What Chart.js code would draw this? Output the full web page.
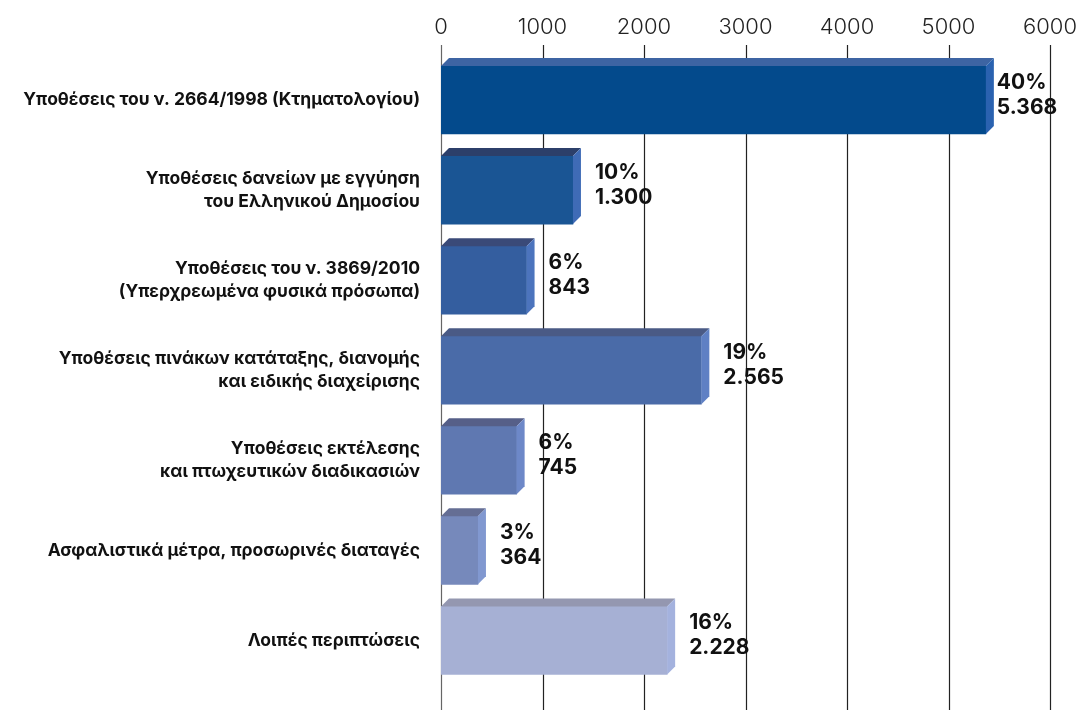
<!DOCTYPE html>
<html>
<head>
<meta charset="utf-8">
<script src="https://cdn.jsdelivr.net/npm/chart.js@4"></script>
<style>
  body { margin: 0; background: #fff; }
  #wrap { width: 1083px; height: 710px; }
</style>
</head>
<body>
<div id="wrap"><canvas id="casesChart"></canvas></div>
<script>
// data
const categories = [
    'Υποθέσεις του ν. 2664/1998 (Κτηματολογίου)',
    ['Υποθέσεις δανείων με εγγύηση', 'του Ελληνικού Δημοσίου'],
    ['Υποθέσεις του ν. 3869/2010', '(Υπερχρεωμένα φυσικά πρόσωπα)'],
    ['Υποθέσεις πινάκων κατάταξης, διανομής', 'και ειδικής διαχείρισης'],
    ['Υποθέσεις εκτέλεσης', 'και πτωχευτικών διαδικασιών'],
    'Ασφαλιστικά μέτρα, προσωρινές διαταγές',
    'Λοιπές περιπτώσεις'
];
const caseCounts = [5368, 1300, 843, 2565, 745, 364, 2228];
const casePercents = [40, 10, 6, 19, 6, 3, 16];
const axisTicks = [0, 1000, 2000, 3000, 4000, 5000, 6000];

// colours of the three faces of each bar
const frontColors = ['#034a8c', '#1a5594', '#345e9f', '#4a6ba8', '#5f78b1', '#7689bb', '#a6b0d4'];
const topColors   = ['#3d64a3', '#2c3f6a', '#3a4a78', '#4a5a85', '#565f88', '#656e94', '#9497b0'];
const sideColors  = ['#2a62b0', '#3f6bb6', '#4c74bd', '#5f80c4', '#6d88c8', '#8198d0', '#a4b2de'];

const DEPTH = 8;

function fmt(n) {
    return n.toLocaleString('el-GR');
}

const bars3d = {
    id: 'bars3d',
    // vertical grid lines, from the tick marks down to the bottom edge
    beforeDatasetsDraw(chart) {
        const ctx = chart.ctx;
        const xs = chart.scales.x;
        ctx.save();
        axisTicks.forEach(function (t, i) {
            const px = Math.round(xs.getPixelForValue(t)) + 0.5;
            ctx.strokeStyle = i === 0 ? '#666' : '#222';
            ctx.lineWidth = 1.2;
            ctx.beginPath();
            ctx.moveTo(px, chart.chartArea.top - 10);
            ctx.lineTo(px, chart.height);
            ctx.stroke();
        });
        ctx.restore();
    },
    // top + right faces and the value labels
    afterDatasetsDraw(chart) {
        const ctx = chart.ctx;
        const meta = chart.getDatasetMeta(0);
        meta.data.forEach(function (bar, i) {
            const p = bar.getProps(['x', 'y', 'base', 'height'], true);
            const top = p.y - p.height / 2;
            const bottom = p.y + p.height / 2;
            ctx.save();
            ctx.fillStyle = topColors[i];
            ctx.beginPath();
            ctx.moveTo(p.base, top);
            ctx.lineTo(p.base + DEPTH, top - DEPTH);
            ctx.lineTo(p.x + DEPTH, top - DEPTH);
            ctx.lineTo(p.x, top);
            ctx.closePath();
            ctx.fill();

            ctx.fillStyle = sideColors[i];
            ctx.beginPath();
            ctx.moveTo(p.x, top);
            ctx.lineTo(p.x + DEPTH, top - DEPTH);
            ctx.lineTo(p.x + DEPTH, bottom - DEPTH);
            ctx.lineTo(p.x, bottom);
            ctx.closePath();
            ctx.fill();

            ctx.fillStyle = '#111';
            ctx.font = '700 21px Inter';
            ctx.textAlign = 'left';
            ctx.textBaseline = 'alphabetic';
            const lx = p.x + DEPTH + (i === 0 ? 3 : 14);
            ctx.fillText(casePercents[i] + '%', lx, p.y - 11);
            ctx.fillText(fmt(caseCounts[i]), lx, p.y + 14);
            ctx.restore();
        });
    }
};

const ctx = document.getElementById('casesChart').getContext('2d');
const casesChart = new Chart(ctx, {
    type: 'bar',
    data: {
        labels: categories,
        datasets: [{
            data: caseCounts,
            backgroundColor: frontColors,
            borderWidth: 0,
            barThickness: 68
        }]
    },
    options: {
        indexAxis: 'y',
        responsive: true,
        maintainAspectRatio: false,
        animation: false,
        layout: { padding: { right: 33, bottom: 20, left: 0, top: 0 } },
        plugins: {
            legend: { display: false },
            tooltip: { enabled: false }
        },
        scales: {
            x: {
                position: 'top',
                min: 0,
                max: 6000,
                afterBuildTicks: function (scale) {
                    scale.ticks = axisTicks.map(v => ({ value: v }));
                },
                afterFit: function (scale) { scale.height = 55; },
                ticks: {
                    color: '#222',
                    font: { family: 'Inter', size: 22, weight: '300' },
                    padding: 4,
                    maxRotation: 0,
                    callback: v => String(v)
                },
                grid: { display: false, tickLength: 10 },
                border: { display: false }
            },
            y: {
                afterFit: function (scale) { scale.width = 441; },
                ticks: {
                    color: '#111',
                    font: { family: 'Inter', size: 17.5, weight: '700', lineHeight: 1.32 },
                    padding: 13
                },
                grid: { display: false },
                border: { display: false }
            }
        }
    },
    plugins: [bars3d]
});
</script>
</body>
</html>
